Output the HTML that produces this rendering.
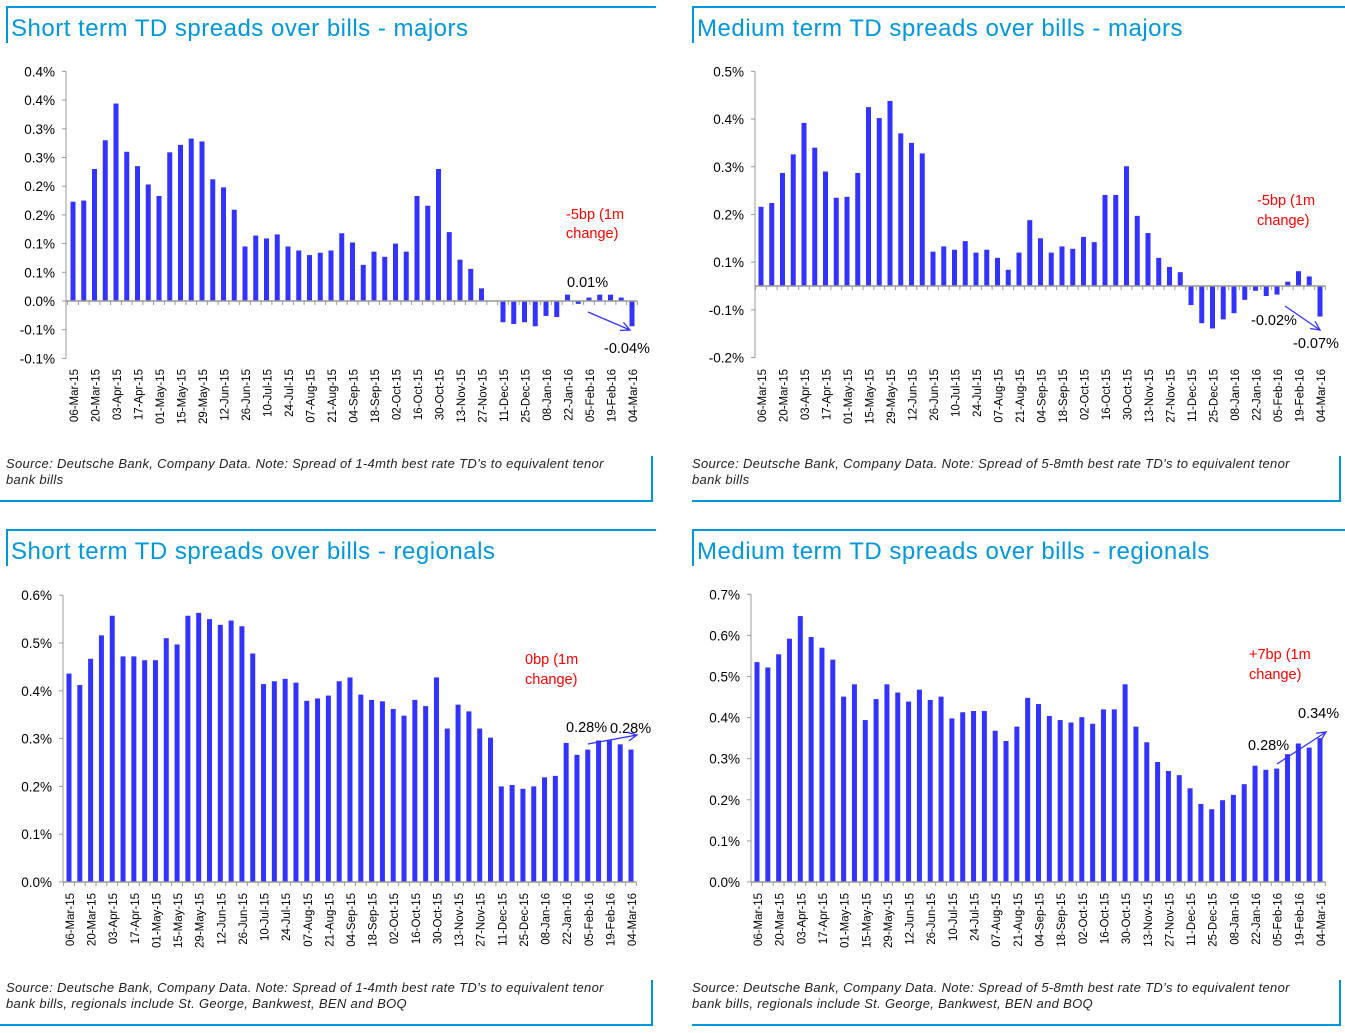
<!DOCTYPE html>
<html><head><meta charset="utf-8">
<style>
html,body{margin:0;padding:0;background:#fff;}
svg{display:block;font-family:"Liberation Sans",Arial,sans-serif;}
</style></head>
<body>
<svg id="page" width="1345" height="1033" viewBox="0 0 1345 1033" xmlns="http://www.w3.org/2000/svg"></svg>
<script>
const categories = ["06-Mar-15","13-Mar-15","20-Mar-15","27-Mar-15","03-Apr-15","10-Apr-15","17-Apr-15","24-Apr-15","01-May-15","08-May-15","15-May-15","22-May-15","29-May-15","05-Jun-15","12-Jun-15","19-Jun-15","26-Jun-15","03-Jul-15","10-Jul-15","17-Jul-15","24-Jul-15","31-Jul-15","07-Aug-15","14-Aug-15","21-Aug-15","28-Aug-15","04-Sep-15","11-Sep-15","18-Sep-15","25-Sep-15","02-Oct-15","09-Oct-15","16-Oct-15","23-Oct-15","30-Oct-15","06-Nov-15","13-Nov-15","20-Nov-15","27-Nov-15","04-Dec-15","11-Dec-15","18-Dec-15","25-Dec-15","01-Jan-16","08-Jan-16","15-Jan-16","22-Jan-16","29-Jan-16","05-Feb-16","12-Feb-16","19-Feb-16","26-Feb-16","04-Mar-16"];

const shortMajors = [0.173,0.175,0.230,0.280,0.344,0.260,0.235,0.203,0.183,0.259,0.272,0.283,0.278,0.212,0.198,0.159,0.095,0.114,0.109,0.116,0.095,0.088,0.080,0.084,0.088,0.118,0.102,0.063,0.086,0.077,0.100,0.086,0.183,0.166,0.230,0.120,0.072,0.056,0.022,0,-0.037,-0.040,-0.037,-0.044,-0.026,-0.028,0.011,-0.005,0.006,0.011,0.011,0.006,-0.044];
const mediumMajors = [0.166,0.174,0.237,0.276,0.342,0.290,0.240,0.185,0.187,0.237,0.375,0.352,0.388,0.320,0.300,0.278,0.072,0.083,0.076,0.094,0.070,0.076,0.059,0.034,0.070,0.138,0.100,0.070,0.083,0.078,0.103,0.092,0.191,0.191,0.251,0.147,0.111,0.059,0.040,0.029,-0.040,-0.078,-0.089,-0.070,-0.057,-0.029,-0.010,-0.021,-0.018,0.009,0.031,0.020,-0.064];
const shortRegionals = [0.436,0.412,0.467,0.516,0.557,0.472,0.472,0.464,0.464,0.510,0.497,0.557,0.563,0.550,0.538,0.547,0.535,0.478,0.414,0.420,0.425,0.417,0.379,0.384,0.390,0.420,0.428,0.392,0.381,0.378,0.362,0.348,0.381,0.368,0.428,0.321,0.371,0.357,0.321,0.302,0.200,0.203,0.195,0.200,0.219,0.222,0.291,0.266,0.277,0.296,0.296,0.288,0.277];
const mediumRegionals = [0.535,0.522,0.554,0.592,0.647,0.596,0.570,0.541,0.451,0.481,0.394,0.445,0.481,0.461,0.439,0.468,0.443,0.451,0.398,0.413,0.416,0.416,0.368,0.343,0.378,0.448,0.433,0.404,0.394,0.388,0.401,0.385,0.420,0.420,0.481,0.378,0.340,0.292,0.270,0.260,0.228,0.190,0.177,0.199,0.212,0.238,0.283,0.273,0.276,0.311,0.337,0.327,0.350];

const ticks1 = [-0.10,-0.05,0,0.05,0.10,0.15,0.20,0.25,0.30,0.35,0.40];
const tickLabels1 = ["-0.1%","-0.1%","0.0%","0.1%","0.1%","0.2%","0.2%","0.3%","0.3%","0.4%","0.4%"];
const ticks2 = [-0.15,-0.05,0.05,0.15,0.25,0.35,0.45];
const tickLabels2 = ["-0.2%","-0.1%","0.1%","0.2%","0.3%","0.4%","0.5%"];
const ticks3 = [0,0.1,0.2,0.3,0.4,0.5,0.6];
const tickLabels3 = ["0.0%","0.1%","0.2%","0.3%","0.4%","0.5%","0.6%"];
const ticks4 = [0,0.1,0.2,0.3,0.4,0.5,0.6,0.7];
const tickLabels4 = ["0.0%","0.1%","0.2%","0.3%","0.4%","0.5%","0.6%","0.7%"];

const NS="http://www.w3.org/2000/svg";
const svg=document.getElementById('page');
function mk(tag,attrs,parent,text){
  const e=document.createElementNS(NS,tag);
  for(const k in attrs) e.setAttribute(k,attrs[k]);
  if(text!==undefined) e.textContent=text;
  (parent||svg).appendChild(e);
  return e;
}
const BLUE="#0096db";

function panel(cfg){
  const g=mk('g',{});
  
  
  const L=mk('path',{d:`M${cfg.fx0} ${cfg.fy0+1}H${cfg.fx1}M${cfg.fx0+1} ${cfg.fy0}V${cfg.fy0+37}`,stroke:BLUE,'stroke-width':2,fill:'none'},g);
  
  
  const B=mk('path',{d:`M${cfg.sx1} ${cfg.sy0}V${cfg.sy0+45}H${cfg.sx0}`,stroke:BLUE,'stroke-width':2,fill:'none'},g);
  
  
  const t=mk('text',{x:cfg.fx0+5,y:cfg.fy0+30,'font-size':24,'letter-spacing':0.5,fill:BLUE},g,cfg.title);
  
  
  cfg.src.forEach((s,i)=>{
    const st=mk('text',{x:cfg.fx0,y:cfg.sy0+12+i*16,'font-size':13,'letter-spacing':0.32,'font-style':'italic',fill:'#222'},g,s);
    
    
  });
  const yOf=v=>cfg.y0 - v*cfg.k;
  const n=categories.length;
  const xOf=i=>cfg.bx0 + i*(cfg.bx1-cfg.bx0)/(n-1);
  const step=(cfg.bx1-cfg.bx0)/(n-1);
  const ya=mk('line',{x1:cfg.ax,x2:cfg.ax,y1:yOf(cfg.ticks[cfg.ticks.length-1]),y2:yOf(cfg.ticks[0]),stroke:'#999','stroke-width':1},g);
  
  
  cfg.ticks.forEach((v,i)=>{
    mk('line',{x1:cfg.ax-4,x2:cfg.ax,y1:yOf(v),y2:yOf(v),stroke:'#999'},g);
    const tl=mk('text',{x:cfg.ax-11,y:yOf(v)+5,'font-size':13.5,'text-anchor':'end',fill:'#000'},g,cfg.tickLabels[i]);
    
    
  });
  cfg.data.forEach((v,i)=>{
    const y=yOf(v), y0=yOf(0);
    const r=mk('rect',{x:xOf(i)-2.5,y:Math.min(y,y0),width:5,height:Math.abs(y0-y),fill:'#3333ff'},g);
    
    
  });
  const xa=mk('line',{x1:cfg.ax,x2:cfg.bx1+step/2,y1:yOf(0),y2:yOf(0),stroke:'#999','stroke-width':1.5},g);
  
  
  for(let i=0;i<=n;i++){
    const x=cfg.bx0-step/2+i*step;
    mk('line',{x1:x,x2:x,y1:yOf(0),y2:yOf(0)+4,stroke:'#999'},g);
  }
  categories.forEach((c,i)=>{
    if(i%2) return;
    const x=xOf(i)+5, y=cfg.ly;
    const tl=mk('text',{x:x,y:y,'font-size':11.5,'text-anchor':'end',transform:`rotate(-90 ${x} ${y})`,fill:'#000'},g,c);
    
    
  });
  cfg.notes.forEach(a=>{
    const at=mk('text',{x:a[0],y:a[1],'font-size':14.5,fill:a[3]||'#000'},g,a[2]);
    
    
  });
  const [x1,y1,x2,y2]=cfg.arrow;
  const ang=Math.atan2(y2-y1,x2-x1);
  const h=10;
  const p=`M${x1} ${y1}L${x2} ${y2}M${x2-h*Math.cos(ang-0.45)} ${y2-h*Math.sin(ang-0.45)}L${x2} ${y2}L${x2-h*Math.cos(ang+0.45)} ${y2-h*Math.sin(ang+0.45)}`;
  const ar=mk('path',{d:p,stroke:'#3333ff','stroke-width':1.3,fill:'none'},g);
  
  
}

panel({name:'chart-short-term-majors',title:'Short term TD spreads over bills - majors',fx0:6,fy0:6,fx1:656,sx0:0,sx1:652,sy0:456,
  src:["Source: Deutsche Bank, Company Data. Note: Spread of 1-4mth best rate TD’s to equivalent tenor","bank bills"],
  data:shortMajors,ticks:ticks1,tickLabels:tickLabels1,y0:301,k:574,ax:66,bx0:73,bx1:632,ly:369,
  notes:[[566,219,'-5bp (1m','#ff0000'],[566,238,'change)','#ff0000'],[567,287,'0.01%'],[604,353,'-0.04%']],
  arrow:[588,312,630,330]});
panel({name:'chart-medium-term-majors',title:'Medium term TD spreads over bills - majors',fx0:692,fy0:6,fx1:1345,sx0:692,sx1:1340,sy0:456,
  src:["Source: Deutsche Bank, Company Data. Note: Spread of 5-8mth best rate TD’s to equivalent tenor","bank bills"],
  data:mediumMajors,ticks:ticks2,tickLabels:tickLabels2,y0:286,k:477,ax:755,bx0:761,bx1:1320,ly:369,
  notes:[[1257,205,'-5bp (1m','#ff0000'],[1257,225,'change)','#ff0000'],[1251,325,'-0.02%'],[1293,348,'-0.07%']],
  arrow:[1285,306,1320,330]});
panel({name:'chart-short-term-regionals',title:'Short term TD spreads over bills - regionals',fx0:6,fy0:529,fx1:656,sx0:0,sx1:652,sy0:980,
  src:["Source: Deutsche Bank, Company Data. Note: Spread of 1-4mth best rate TD’s to equivalent tenor","bank bills, regionals include St. George, Bankwest, BEN and BOQ"],
  data:shortRegionals,ticks:ticks3,tickLabels:tickLabels3,y0:882,k:478,ax:63,bx0:69,bx1:631,ly:893,
  notes:[[525,664,'0bp (1m','#ff0000'],[525,684,'change)','#ff0000'],[566,732,'0.28%'],[610,733,'0.28%']],
  arrow:[588,744,637,735]});
panel({name:'chart-medium-term-regionals',title:'Medium term TD spreads over bills - regionals',fx0:692,fy0:529,fx1:1345,sx0:692,sx1:1340,sy0:980,
  src:["Source: Deutsche Bank, Company Data. Note: Spread of 5-8mth best rate TD’s to equivalent tenor","bank bills, regionals include St. George, Bankwest, BEN and BOQ"],
  data:mediumRegionals,ticks:ticks4,tickLabels:tickLabels4,y0:882,k:411,ax:751,bx0:757,bx1:1320,ly:893,
  notes:[[1249,659,'+7bp (1m','#ff0000'],[1249,679,'change)','#ff0000'],[1248,750,'0.28%'],[1298,718,'0.34%']],
  arrow:[1277,764,1326,732]});
</script>
</body></html>
